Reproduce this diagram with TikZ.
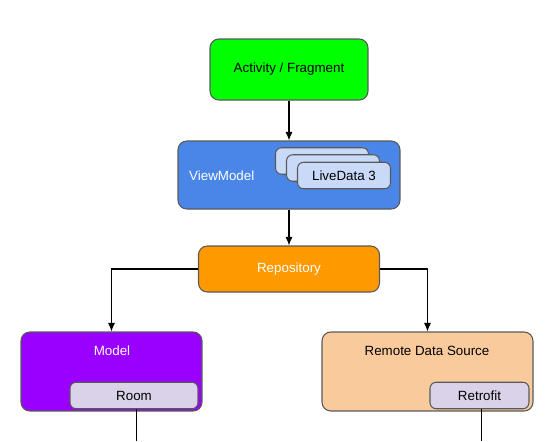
\documentclass[tikz,border=0pt]{standalone}
\usepackage{fontspec}
\setmainfont{Liberation Sans}
\usetikzlibrary{positioning,arrows.meta}

\definecolor{edgegray}{HTML}{595959}
\definecolor{actgreen}{HTML}{00FF00}
\definecolor{vmblue}{HTML}{4A86E8}
\definecolor{ldblue}{HTML}{C9DAF8}
\definecolor{repoorange}{HTML}{FF9900}
\definecolor{modelpurple}{HTML}{9900FF}
\definecolor{remotepeach}{HTML}{F9CB9C}
\definecolor{liblavender}{HTML}{D9D2E9}

\begin{document}
\begin{tikzpicture}[
		x=0.02cm, y=-0.02cm,
		font=\fontsize{7.6}{9}\selectfont,
		box/.style={
			draw=edgegray,
			line width=0.6pt,
			rounded corners=5pt,
			inner sep=0pt
		},
		smallbox/.style={
			box,
			rounded corners=3.5pt,
			minimum height=0.53cm
		},
		arr/.style={-{Latex[length=1.7mm,width=1.4mm]}, line width=0.6pt}
		]
		\useasboundingbox (0,0) rectangle (556,441);
		
		\node[box, fill=actgreen, minimum width=3.16cm, minimum height=1.22cm] (act) at (289,69.5) {Activity / Fragment};
		
		\node[box, fill=vmblue, minimum width=4.44cm, minimum height=1.36cm] (vm) at (289,175) {};
		\node[text=white, anchor=west] (vmlabel) at (183,176) {ViewModel};
		\node[smallbox, fill=ldblue, minimum width=1.86cm] (ld1) at (322,161) {};
		\node[smallbox, fill=ldblue, minimum width=1.86cm] (ld2) at (333,168) {};
		\node[smallbox, fill=ldblue, minimum width=1.86cm] (ld3) at (344,175.5) {LiveData 3};
		
		\node[box, fill=repoorange, text=white, minimum width=3.62cm, minimum height=0.92cm] (repo) at (289,269) {Repository};
		
		\node[box, fill=modelpurple, minimum width=3.62cm, minimum height=1.58cm] (model) at (111.5,371.5) {};
		\node[text=white] (modellabel) at (112,351) {Model};
		\node[smallbox, fill=liblavender, minimum width=2.56cm] (room) at (134,395.5) {Room};
		
		\node[box, fill=remotepeach, minimum width=4.22cm, minimum height=1.58cm] (remote) at (427.5,371.5) {};
		\node (remotelabel) at (427,351) {Remote Data Source};
		\node[smallbox, fill=liblavender, minimum width=1.98cm] (retro) at (479.5,395.5) {Retrofit};
		
		\coordinate (roomout) at (136,441);
		\coordinate (retroout) at (481,441);
		
		\draw[arr] (act) -- (vm);
		\draw[arr] (vm) -- (repo);
		\draw[arr] (repo.west) -| (model.north);
		\draw[arr] (repo.east) -| (remote.north);
		\draw[line width=0.4pt] (room.south -| roomout) -- (roomout);
		\draw[line width=0.4pt] (retro.south -| retroout) -- (retroout);
		
	\end{tikzpicture}
\end{document}
